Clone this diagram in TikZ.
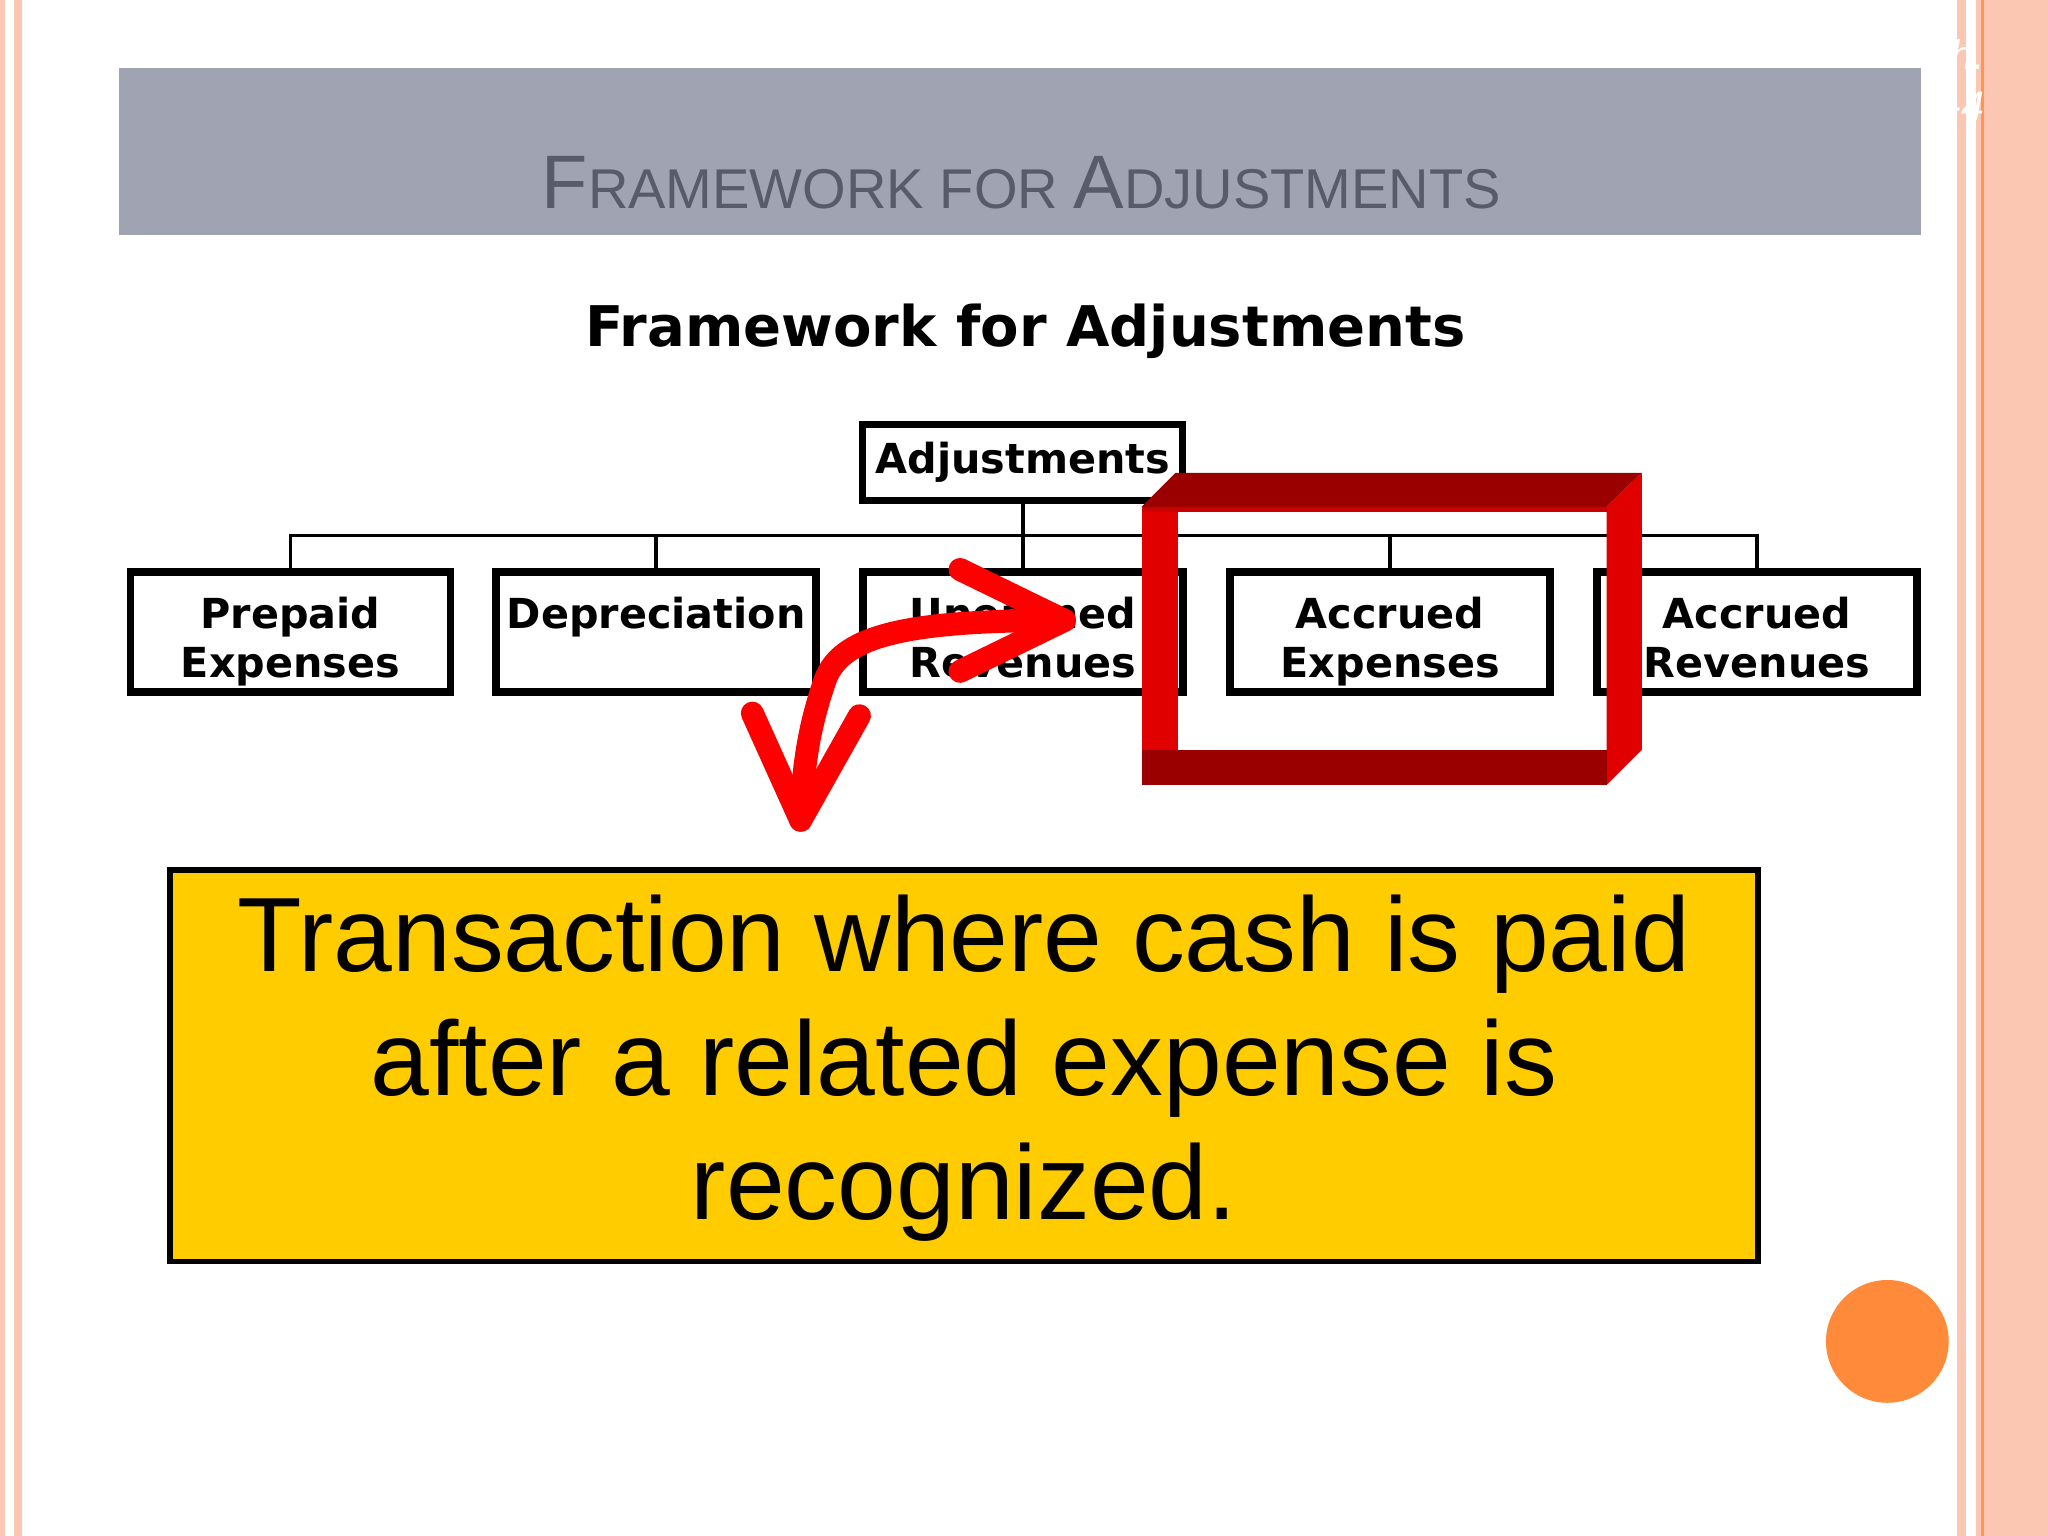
\documentclass[tikz,border=0pt]{standalone}
\usepackage{fontspec}
\setmainfont{Liberation Sans}
\newfontfamily\hdfont{DejaVu Sans}
\definecolor{salmon}{HTML}{FBC6B2}
\definecolor{banner}{HTML}{A0A3B1}
\definecolor{titlegrey}{HTML}{595A6A}
\definecolor{ybox}{HTML}{FFCC00}
\definecolor{brightred}{HTML}{E00000}
\definecolor{darkred}{HTML}{9A0000}
\definecolor{orangedot}{HTML}{FF8A3A}
\begin{document}
\begin{tikzpicture}[x=0.01cm,y=-0.01cm,
  catbox/.style={draw,line width=1.6pt,minimum width=245*0.01cm,minimum height=92*0.01cm,anchor=north west,inner sep=0pt,
    text width=245*0.01cm,align=center,font=\hdfont\bfseries\fontsize{9}{10.5}\selectfont},
  catlabel/.style={anchor=north,align=center,font=\hdfont\bfseries\fontsize{9}{10.5}\selectfont},
  tree/.style={line width=0.8pt},
  redarrow/.style={draw=red,line width=5pt,line cap=round,line join=round}]
\useasboundingbox (0,0) rectangle (1568,1176);
\fill[white] (0,0) rectangle (1568,1176);
% borders
\fill[salmon] (0,0) rectangle (4,1176);
\fill[salmon] (11,0) rectangle (17,1176);
\fill[salmon] (1498,0) rectangle (1505,1176);
\fill[salmon] (1513,0) rectangle (1568,1176);
\fill[orangedot!80!salmon] (1517,0) rectangle (1519,1176);
\node[text=white,font=\itshape\fontsize{9}{11}\selectfont,align=right,anchor=north east] (exh) at (1532,18) {Exh.\\3-4};
% banner
\fill[banner] (91,52) rectangle (1471,180);
\node[text=titlegrey,anchor=base] (title) at (782,160) {\fontsize{16.5}{18}\selectfont F\fontsize{12.2}{14}\selectfont RAMEWORK FOR \fontsize{16.5}{18}\selectfont A\fontsize{12.2}{14}\selectfont DJUSTMENTS};
\node[anchor=base,font=\hdfont\bfseries\fontsize{12.2}{14}\selectfont] (head) at (785,265) {Framework for Adjustments};
% tree
\node[draw,line width=1.6pt,minimum width=245*0.01cm,minimum height=58*0.01cm,inner sep=0pt,font=\hdfont\bfseries\fontsize{9}{10.5}\selectfont] (adj) at (783,354) {Adjustments};
\foreach \n/\x in {pe/97,dep/377,ur/658,ae/939,ar/1220}{
  \node[catbox] (\n) at (\x,435) {};
}
\node[catlabel] at ([yshift=-0.1cm]pe.north) {Prepaid\\Expenses};
\node[catlabel] at ([yshift=-0.1cm]dep.north) {Depreciation};
\node[catlabel] at ([yshift=-0.1cm]ur.north) {Unearned\\Revenues};
\node[catlabel] at ([yshift=-0.1cm]ae.north) {Accrued\\Expenses};
\node[catlabel] at ([yshift=-0.1cm]ar.north) {Accrued\\Revenues};
\coordinate (bus) at (783,410);
\draw[tree] (adj.south) -- (bus);
\draw[tree] (pe.north) |- (bus) -| (ar.north);
\foreach \n in {dep,ur,ae}{\draw[tree] (\n.north) -- (\n.north |- bus);}
% red 3D frame
\fill[darkred] (874,388) -- (900,362) -- (1257,362) -- (1230,388) -- cycle;
\fill[brightred] (874,388) rectangle (902,601);
\fill[brightred] (1230,388) -- (1257,362) -- (1257,574) -- (1230,601) -- cycle;
\fill[darkred] (874,574) rectangle (1230,601);
\fill[brightred!70!darkred] (874,388) rectangle (1230,392);
% red arrow
\coordinate (hd1) at (815,475);
\coordinate (hd2) at (613,628);
\draw[redarrow] (735,436) -- (hd1) -- (735,514);
\draw[redarrow] (hd1) .. controls (700,475) and (645,485) .. (632,520) .. controls (618,560) and (615,590) .. (hd2);
\draw[redarrow] (576,546) -- (hd2) -- (658,548);
% yellow box
\node[draw,line width=1.2pt,fill=ybox,minimum width=1216*0.01cm,minimum height=300*0.01cm,inner sep=0pt] (yb) at (738,816) {};
\node[align=center,font=\fontsize{23}{27}\selectfont] (ytext) at (738,818) {Transaction where cash is paid\\after a related expense is\\recognized.};
% orange dot
\fill[orangedot] (1445,1027) circle (47);
\end{tikzpicture}
\end{document}
